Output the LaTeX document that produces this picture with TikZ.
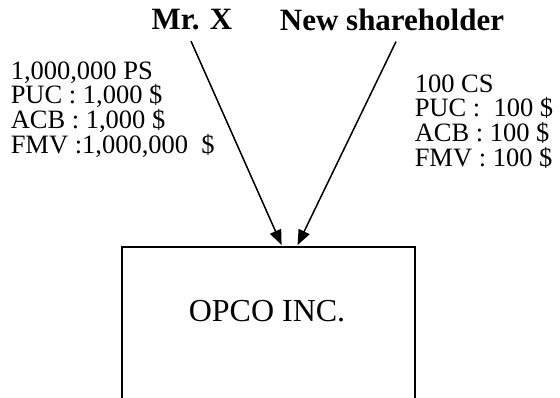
\documentclass[tikz,border=0pt]{standalone}
\usepackage{fontspec}
\setmainfont{Liberation Serif}
\usetikzlibrary{
  calc,
  positioning,
  arrows.meta}

\begin{document}
\begin{tikzpicture}[
  x=1pt,y=-1pt,
  >={Triangle[length=15pt,width=12pt]},
  line width=1.5pt,
  holder/.style={font=\fontsize{31}{31}\selectfont\bfseries,inner sep=0pt},
  shares/.style={font=\fontsize{26.5}{24.6}\selectfont,align=left,inner sep=0pt,anchor=north west},
  company/.style={draw,line width=2.2pt,minimum width=293pt,minimum height=200pt,anchor=north west,font=\fontsize{32}{32}\selectfont}
]%
  \clip (0,0) rectangle (560,397);

  \node[holder] (mrx) at (192,20) {Mr. X};
  \node[holder] (newsh) at (392,20) {New shareholder};

  \node[shares] (psblock) at (10,61) {1,000,000 PS\\PUC : 1,000 \$\\ACB : 1,000 \$\\FMV :1,000,000~ \$};
  \node[shares] (csblock) at (414,74) {100 CS\\PUC :~ 100 \$\\ACB : 100 \$\\FMV : 100 \$};

  \node[company] (opco) at (121,246) {};
  \node[font=\fontsize{32}{32}\selectfont] (opcotxt) at (267,311) {OPCO INC.};

  % entry points on top of the box
  \coordinate (inX) at ($(opco.north)+(13,-1)$);
  \coordinate (inN) at ($(opco.north)+(29,-1)$);

  \draw[->] ($(mrx.south)+(-1,10)$) -- (inX);
  \draw[->] ($(newsh.south)+(4,10)$) -- (inN);

\end{tikzpicture}
\end{document}
